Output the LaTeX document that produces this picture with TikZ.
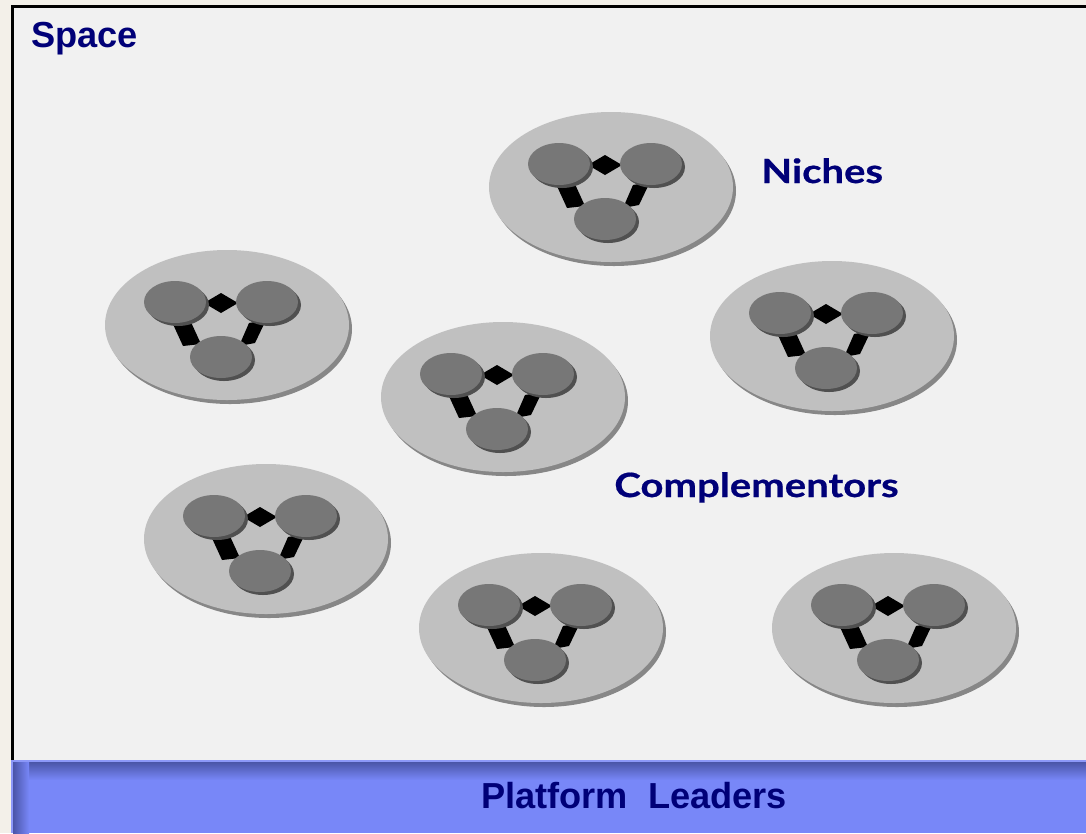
\documentclass[tikz,border=0pt]{standalone}
\usepackage{fontspec}
\usepackage{tikz}
\newfontfamily\arialfont{Liberation Sans}
\newfontfamily\gillfont[FakeStretch=1.2,FakeBold=0.6]{Lato}
\definecolor{pagebg}{RGB}{243,240,233}
\definecolor{spacebg}{RGB}{241,241,241}
\definecolor{navytext}{RGB}{0,0,120}
\definecolor{nichegray}{RGB}{192,192,192}
\definecolor{nicheshadow}{RGB}{135,135,135}
\definecolor{membergray}{RGB}{119,119,119}
\definecolor{membershadow}{RGB}{80,80,80}
\definecolor{barblue}{RGB}{120,135,248}
\definecolor{baredge}{RGB}{140,152,248}
\definecolor{bardark}{RGB}{74,85,168}

\tikzset{
  niche/.style={fill=nichegray},
  niche shadow/.style={fill=nicheshadow},
  member/.style={fill=membergray},
  member shadow/.style={fill=membershadow},
  link/.style={fill=black},
  headtext/.style={inner sep=0pt,anchor=base west,text=navytext,font=\arialfont\bfseries\fontsize{20.6pt}{24pt}\selectfont},
  rolename/.style={inner sep=0pt,anchor=base west,text=navytext,font=\gillfont\bfseries\fontsize{19pt}{23pt}\selectfont}
}

\begin{document}
\begin{tikzpicture}[x=0.02cm,y=-0.02cm]
                \useasboundingbox (0,0) rectangle (1086,833);
                \fill[pagebg] (0,0) rectangle (1086,833);
                \fill[spacebg] (12,6) rectangle (1086,833);
                \draw[line width=0.06cm] (12.5,833) -- (12.5,6) -- (1086,6);

                % the niches, each with three members
                \foreach \cx/\cy in {612/188,228/326,833/337,504/398,267/540,542/629,895/629} {
                    \begin{scope}[shift={(\cx,\cy)}]
                        \fill[niche shadow] (2,3) ellipse [x radius=122, y radius=75];
                        \fill[niche] (-1,-1) ellipse [x radius=122, y radius=75];
                        \fill[link] (-24,-23) -- (-7,-33) -- (10,-23) -- (-7,-13) -- cycle;
                        \fill[link] (-56,-4) -- (-38,-6) -- (-27,18) -- (-45,20) -- cycle;
                        \fill[link] (21,-3) -- (38,-6) -- (27,17) -- (11,20) -- cycle;
                        \foreach \mx/\my in {-52/-23,40/-23,-6/32} {
                            \fill[member shadow] (\mx+2,\my+2) ellipse [x radius=31, y radius=21];
                            \fill[member] (\mx-1,\my-1) ellipse [x radius=31, y radius=21];
                        }
                    \end{scope}
                }

                % platform bar
                \fill[baredge] (11,760) rectangle (1086,833);
                \fill[barblue] (13,762) rectangle (1086,833);
                \shade[top color=bardark,bottom color=barblue] (13,762) rectangle (1086,780);
                \shade[left color=bardark,right color=barblue] (13,762) rectangle (29,833);

                \node[headtext] (space) at (31,47) {Space};
                \node[rolename] (niches) at (761,183) {Niches};
                \node[rolename] (complementors) at (614,497) {Complementors};
                \node[headtext] (leaders) at (481,808) {Platform\ \ Leaders};
\end{tikzpicture}
\end{document}
